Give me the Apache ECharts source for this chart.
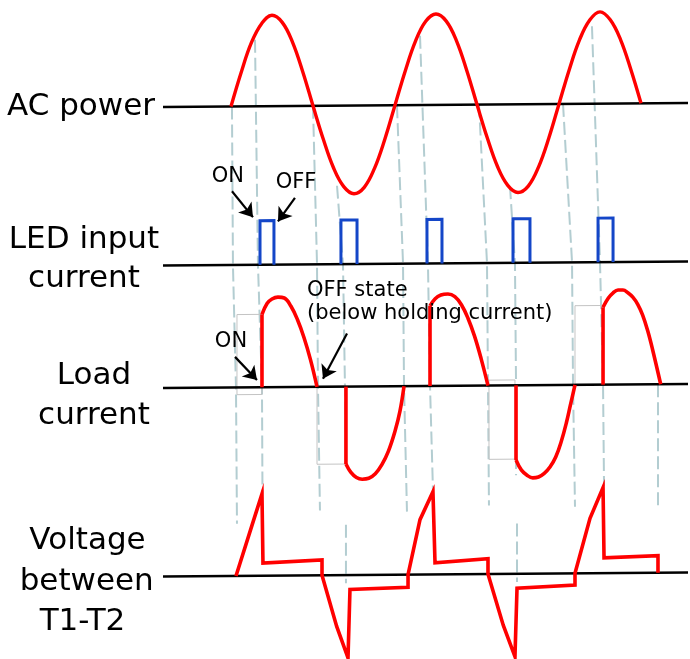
<!DOCTYPE html>
<html><head><meta charset="utf-8">
<script src="https://cdn.jsdelivr.net/npm/echarts@6/dist/echarts.min.js"></script>
<style>html,body{margin:0;padding:0;background:#fff}#c{width:690px;height:659px}</style>
</head><body><div id="c"></div>
<script>
// ---------- DATA (time in ms, amplitudes normalised to AC peak = 1) ----------
const acTime  = [0,1.25,2.5,3.75,5,6.25,7.5,8.75,10,11.25,12.5,13.75,15,16.25,17.5,18.75,20,21.25,22.5,23.75,25,26.25,27.5,28.75,30,31.25,32.5,33.75,35,36.25,37.5,38.75,40,41.25,42.5,43.75,45,46.25,47.5,48.75,50];
const acValue = [0,0.38,0.71,0.92,1.01,0.93,0.71,0.38,0,-0.37,-0.69,-0.9,-0.98,-0.91,-0.7,-0.38,0,0.38,0.71,0.93,1.01,0.93,0.71,0.38,0,-0.37,-0.69,-0.9,-0.98,-0.91,-0.7,-0.38,0,0.38,0.71,0.93,1.02,0.93,0.71,0.38,0];

const ledOn    = [3.54,13.41,23.9,34.39,44.76];
const ledOff   = [5.24,15.37,25.73,36.46,46.59];
const ledLevel = 0.49;

// load current humps: first point = top of the switching jump
const loadHump1 = [[3.78,0.81],[4.4,0.93],[5.0,0.98],[5.73,1.0],[6.5,0.99],[7.3,0.9],[8.1,0.75],[8.9,0.55],[9.7,0.3],[10.49,0]];
const loadHump2 = [[14.02,-0.86],[14.6,-0.95],[15.3,-1.01],[16.0,-1.03],[16.8,-1.02],[17.6,-0.97],[18.4,-0.87],[19.2,-0.72],[20.0,-0.5],[20.6,-0.28],[21.1,0]];
const loadHump3 = [[24.27,0.89],[24.9,0.97],[25.6,1.01],[26.46,1.02],[27.3,0.99],[28.1,0.9],[28.9,0.75],[29.7,0.55],[30.5,0.3],[31.34,0]];
const loadHump4 = [[34.76,-0.83],[35.4,-0.94],[36.1,-1.0],[36.8,-1.03],[37.5,-1.02],[38.2,-0.98],[38.9,-0.91],[39.6,-0.8],[40.3,-0.62],[40.9,-0.42],[41.4,-0.22],[41.95,0]];
const loadHump5 = [[45.37,0.86],[46.0,0.96],[46.6,1.02],[47.2,1.05],[47.8,1.05],[48.4,1.02],[49.0,0.97],[49.6,0.89],[50.2,0.77],[50.8,0.6],[51.4,0.39],[52.4,0]];

const voltT = [0.61,2.56,3.78,3.9,11.1,11.1,12.89,14.27,14.51,21.59,21.59,23.05,24.63,24.88,31.34,31.34,33.2,34.63,34.88,41.95,41.95,43.78,45.37,45.49,52.07,52.07];
const voltV = [0,0.56,0.91,0.14,0.17,0,-0.57,-0.92,-0.16,-0.14,0,0.61,0.92,0.13,0.17,0,-0.57,-0.92,-0.16,-0.13,0,0.61,0.95,0.17,0.19,0];

// timing guides: [row, t, value]
const guideLines = [
  [['ac',0.12,0],['led',0.24,0],['load',0.61,0],['volt',0.73,0.58]],
  [['ac',2.93,0.74],['led',3.29,0],['load',3.78,0],['volt',3.84,0.91]],
  [['ac',10.0,0],['led',10.49,0],['load',10.61,0],['volt',10.85,0.72]],
  [['ac',12.93,-0.89],['led',13.66,0],['load',13.9,0],['load',14.02,-0.86]],
  [['volt',14.02,0.56],['volt',14.02,-0.09]],
  [['ac',20.24,0],['led',20.98,0],['load',21.1,0],['volt',21.46,0.7]],
  [['ac',23.05,0.77],['led',24.02,0],['load',24.27,0],['volt',24.63,0.94]],
  [['ac',30.24,0],['led',31.22,0],['load',31.34,0],['volt',31.46,0.76]],
  [['ac',34.02,-0.91],['led',34.63,0],['load',34.76,0],['load',34.76,-1.0]],
  [['volt',34.88,0.56],['volt',34.88,-0.09]],
  [['ac',40.49,0],['led',41.59,0],['load',41.71,0],['volt',41.95,0.74]],
  [['ac',44.02,0.86],['led',45.0,0],['load',45.37,0],['volt',45.49,0.97]],
  [['load',52.07,0],['volt',52.07,0.72]]
];

// thin grey boxes in the load-current row: [t0, t1, vTop, vBottom]
const holdBoxes = [[0.73,3.78,0.81,-0.08],[10.49,13.9,0.01,-0.86],[31.46,34.63,0.06,-0.82],[41.95,45.37,0.88,0.01]];

// annotations
const arrows = [ // [row, t0, v0, t1, v1]
  ['led',0.12,0.82,2.68,0.53],
  ['led',7.8,0.74,5.73,0.48],
  ['load',0.49,0.34,3.17,0.08],
  ['load',14.15,0.59,11.22,0.09]
];
const notes = [ // [row, t, v, text, align]
  ['led',-0.37,0.98,'ON','center'],
  ['led',7.93,0.91,'OFF','center'],
  ['load',0.0,0.51,'ON','center'],
  ['load',9.27,1.07,'OFF state','left'],
  ['load',9.27,0.81,'(below holding current)','left']
];
const rowLabels = [ // [text, x, y, align]
  ['AC power',7,107,'left'],
  ['LED input',84,240,'center'],
  ['current',84,279,'center'],
  ['Load',94,376,'center'],
  ['current',94,416,'center'],
  ['Voltage',87.5,541,'center'],
  ['between',86.7,582,'center'],
  ['T1-T2',82.5,622,'center']
];

// ---------- LAYOUT ----------
const T_MIN = -8.29, T_MAX = 55.73;
const Y_MAX = 659/90;
const ROW_BASE = {ac:6.156, led:4.394, load:3.033, volt:0.939};
const TILT = 0.000694, T_MID = 23.7;
const P = (row,t,v) => [t, ROW_BASE[row] + v + TILT*(t - T_MID)];

const RED = '#ff0000', BLUE = '#1446c8', GUIDE = '#b3cdd1';
const series = [];
function addLine(points, color, width, opts) {
  series.push(Object.assign({
    type:'line', data:points, symbol:'none', silent:true, animation:false, clip:false,
    lineStyle:{color:color, width:width, cap:'butt', join:'miter'}
  }, opts || {}));
}

// guides
guideLines.forEach(g => addLine(g.map(p => P(p[0],p[1],p[2])), GUIDE, 2,
  {z:1, lineStyle:{color:GUIDE, width:2, type:[13,5]}}));
// grey boxes
holdBoxes.forEach(b => addLine([P('load',b[0],b[2]),P('load',b[1],b[2]),P('load',b[1],b[3]),P('load',b[0],b[3]),P('load',b[0],b[2])], '#c4c4c4', 1, {z:1}));
// baselines
['ac','led','load','volt'].forEach(r => addLine([P(r,T_MIN,0),P(r,T_MAX,0)], '#000', 2.5, {z:3}));
// AC power
addLine(acTime.map((t,i) => P('ac',t,acValue[i])), RED, 3.4, {z:4, smooth:0.4});
// LED pulses
ledOn.forEach((t0,i) => {
  const t1 = ledOff[i];
  addLine([P('led',t0,0),P('led',t0,ledLevel),P('led',t1,ledLevel),P('led',t1,0)], BLUE, 3, {z:4});
});
// load current
[loadHump1,loadHump2,loadHump3,loadHump4,loadHump5].forEach(h => {
  addLine([P('load',h[0][0],0),P('load',h[0][0],h[0][1])], RED, 3.6, {z:4});
  addLine(h.map(p => P('load',p[0],p[1])), RED, 3.6, {z:4, smooth:0.4});
});
// voltage T1-T2
addLine(voltT.map((t,i) => P('volt',t,voltV[i])), RED, 3.6, {z:4});

// arrows
series.push({
  type:'line', data:[], silent:true, animation:false, z:6,
  markLine:{
    silent:true, animation:false, symbol:['none','arrow'], symbolSize:13,
    label:{show:false}, lineStyle:{color:'#000', width:2.2, type:'solid'},
    itemStyle:{color:'#000'},
    data: arrows.map(a => [{coord:P(a[0],a[1],a[2])},{coord:P(a[0],a[3],a[4])}])
  }
});
// notes
series.push({
  type:'scatter', symbolSize:0, silent:true, animation:false, z:6,
  itemStyle:{opacity:1},
  data: notes.map(n => ({
    value: P(n[0],n[1],n[2]),
    label:{show:true, position: n[4]==='left' ? 'right' : 'inside', distance:0,
      formatter:n[3], color:'#000', opacity:1, textBorderWidth:0, fontSize:21, fontFamily:'DejaVu Sans'}
  }))
});

const chart = echarts.init(document.getElementById('c'), null, {renderer:'canvas'});
chart.setOption({
  backgroundColor:'#fff',
  animation:false,
  grid:{left:163, right:2, top:0, bottom:0, containLabel:false},
  xAxis:{type:'value', min:T_MIN, max:T_MAX, show:false},
  yAxis:{type:'value', min:0, max:Y_MAX, show:false},
  graphic: rowLabels.map(l => ({
    type:'text', silent:true,
    style:{text:l[0], x:l[1], y:l[2], font:'31px "DejaVu Sans"', fill:'#000',
      textAlign:l[3], textVerticalAlign:'middle', align:l[3], verticalAlign:'middle'}
  })),
  series: series
});
</script>
</body></html>
